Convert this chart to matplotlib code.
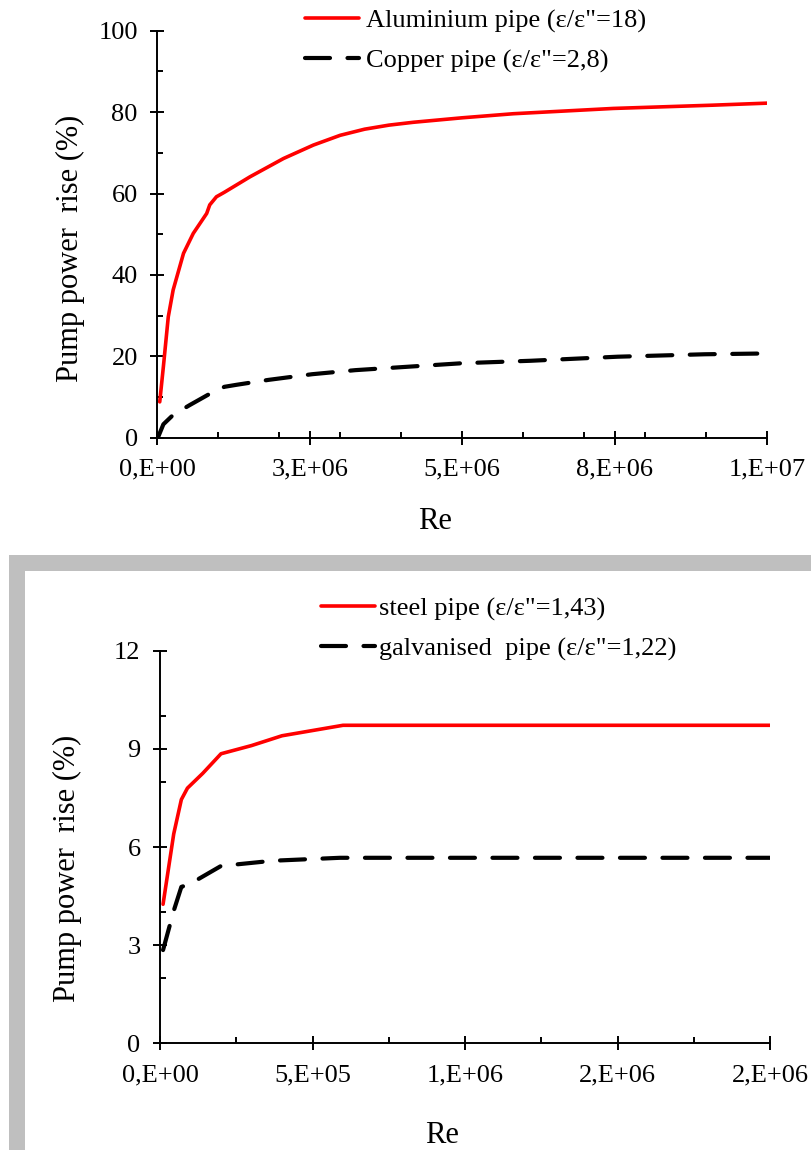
import matplotlib
matplotlib.use("Agg")
import matplotlib.pyplot as plt
from matplotlib.patches import Rectangle
from matplotlib.ticker import FixedLocator, FixedFormatter, MultipleLocator

plt.rcParams['font.family'] = ['Liberation Serif', 'DejaVu Serif']

# ---------------- data: top panel ----------------
alu_re = [4e4, 1.0e5, 1.8e5, 2.6e5, 4.3e5, 5.9e5, 8.1e5, 8.6e5, 9.7e5, 1.1e6,
          1.52e6, 2.07e6, 2.56e6, 3.0e6, 3.4e6, 3.8e6, 4.2e6, 5.0e6, 5.84e6,
          7.48e6, 9.11e6, 1.0e7]
alu_rise = [8.8, 17.5, 29.7, 36.3, 45.3, 50.2, 55.1, 57.2, 59.2, 60.3,
            64.1, 68.6, 71.9, 74.3, 75.8, 76.8, 77.5, 78.6, 79.6,
            80.9, 81.7, 82.2]
cu_re = [1.5e4, 1.0e5, 2.6e5, 5.3e5, 8.5e5, 1.1e6, 1.3e6, 1.82e6, 2.54e6,
         3.25e6, 3.97e6, 5.0e6, 6.12e6, 7.55e6, 8.98e6, 1.0e7]
cu_rise = [0.2, 3.3, 5.6, 8.0, 10.7, 12.5, 13.0, 14.2, 15.6,
           16.6, 17.3, 18.3, 18.9, 19.9, 20.5, 20.7]
top_labels = ['Aluminium pipe (ε/ε"=18)', 'Copper pipe (ε/ε"=2,8)']
top_xticks = [0, 2.5e6, 5e6, 7.5e6, 1e7]
top_xticklabels = ['0,E+00', '3,E+06', '5,E+06', '8,E+06', '1,E+07']
top_yticks = [0, 20, 40, 60, 80, 100]

# ---------------- data: bottom panel ----------------
steel_re = [1e4, 4.5e4, 7e4, 9e4, 1.4e5, 2e5, 3e5, 4e5, 6e5, 2e6]
steel_rise = [4.25, 6.4, 7.45, 7.8, 8.25, 8.85, 9.1, 9.4, 9.72, 9.72]
galv_re = [1e4, 4.5e4, 7e4, 1e5, 2e5, 3.7e5, 5.9e5, 2e6]
galv_rise = [2.85, 4.05, 4.78, 4.88, 5.42, 5.58, 5.67, 5.67]
bot_labels = ['steel pipe (ε/ε"=1,43)', 'galvanised  pipe (ε/ε"=1,22)']
bot_xticks = [0, 5e5, 1e6, 1.5e6, 2e6]
bot_xticklabels = ['0,E+00', '5,E+05', '1,E+06', '2,E+06', '2,E+06']
bot_yticks = [0, 3, 6, 9, 12]

ylabel = 'Pump power  rise (%)'
xlabel = 'Re'

W, H = 811, 1150
fig = plt.figure(figsize=(W / 100, H / 100), dpi=100)
fig.patch.set_facecolor('white')

# gray frame around the lower panel
gray = '#BFBFBF'
fig.add_artist(Rectangle((9 / W, (H - 570.7) / H), (W - 9) / W, 15.7 / H,
                         transform=fig.transFigure, facecolor=gray, edgecolor='none', zorder=0))
fig.add_artist(Rectangle((9 / W, 0), 16 / W, (H - 555) / H,
                         transform=fig.transFigure, facecolor=gray, edgecolor='none', zorder=0))

FS = 19
red_kw = dict(color='#FF0000', lw=2.6, solid_capstyle='round', solid_joinstyle='round')
blk_kw = dict(color='black', lw=3.0, dashes=(6.0, 4.2), dash_capstyle='round')


def style_axes(ax, xmin_step, ymin_step):
    for s in ['top', 'right']:
        ax.spines[s].set_visible(False)
    for s in ['left', 'bottom']:
        ax.spines[s].set_linewidth(1.4)
    ax.xaxis.set_minor_locator(MultipleLocator(xmin_step))
    ax.yaxis.set_minor_locator(MultipleLocator(ymin_step))
    ax.tick_params(which='major', direction='inout', length=10, width=1.4,
                   labelsize=FS)
    ax.tick_params(axis='y', which='major', pad=9)
    ax.tick_params(axis='x', which='major', pad=10)
    ax.tick_params(which='minor', direction='in', length=4.5, width=1.4)


# ---------- top panel ----------
ax1 = fig.add_axes([157.3 / W, (H - 437.7) / H, 609.7 / W, 407.0 / H])
ax1.plot(alu_re, alu_rise, label=top_labels[0], **red_kw)
ax1.plot(cu_re, cu_rise, label=top_labels[1], **blk_kw)
ax1.set_xlim(0, 1e7)
ax1.set_ylim(0, 100)
ax1.xaxis.set_major_locator(FixedLocator(top_xticks))
ax1.xaxis.set_major_formatter(FixedFormatter(top_xticklabels))
ax1.yaxis.set_major_locator(FixedLocator(top_yticks))
style_axes(ax1, 1e6, 10)
ax1.set_ylabel(ylabel, fontsize=22, va='center')
ax1.yaxis.set_label_coords(-0.143, 0.466)
ax1.set_xlabel(xlabel, fontsize=22, va='center')
ax1.xaxis.set_label_coords(0.455, -0.207)
leg1 = ax1.legend(loc='upper left', bbox_to_anchor=(305 / W, (H - 9) / H),
                  bbox_transform=fig.transFigure, frameon=False, fontsize=FS,
                  handlelength=2.05, handletextpad=0.27, labelspacing=0.62,
                  borderpad=0, borderaxespad=0)

# ---------- bottom panel ----------
ax2 = fig.add_axes([160 / W, (H - 1043.3) / H, 610 / W, 392.6 / H])
ax2.plot(steel_re, steel_rise, label=bot_labels[0], **red_kw)
ax2.plot(galv_re, galv_rise, label=bot_labels[1], **blk_kw)
ax2.set_xlim(0, 2e6)
ax2.set_ylim(0, 12)
ax2.xaxis.set_major_locator(FixedLocator(bot_xticks))
ax2.xaxis.set_major_formatter(FixedFormatter(bot_xticklabels))
ax2.yaxis.set_major_locator(FixedLocator(bot_yticks))
style_axes(ax2, 2.5e5, 2)
ax2.set_ylabel(ylabel, fontsize=22, va='center')
ax2.yaxis.set_label_coords(-0.152, 0.4465)
ax2.set_xlabel(xlabel, fontsize=22, va='center')
ax2.xaxis.set_label_coords(0.462, -0.2336)
leg2 = ax2.legend(loc='upper left', bbox_to_anchor=(321 / W, (H - 597) / H),
                  bbox_transform=fig.transFigure, frameon=False, fontsize=FS,
                  handlelength=2.05, handletextpad=0.15, labelspacing=0.62,
                  borderpad=0, borderaxespad=0)

fig.savefig('out.png', dpi=100, facecolor='white')
